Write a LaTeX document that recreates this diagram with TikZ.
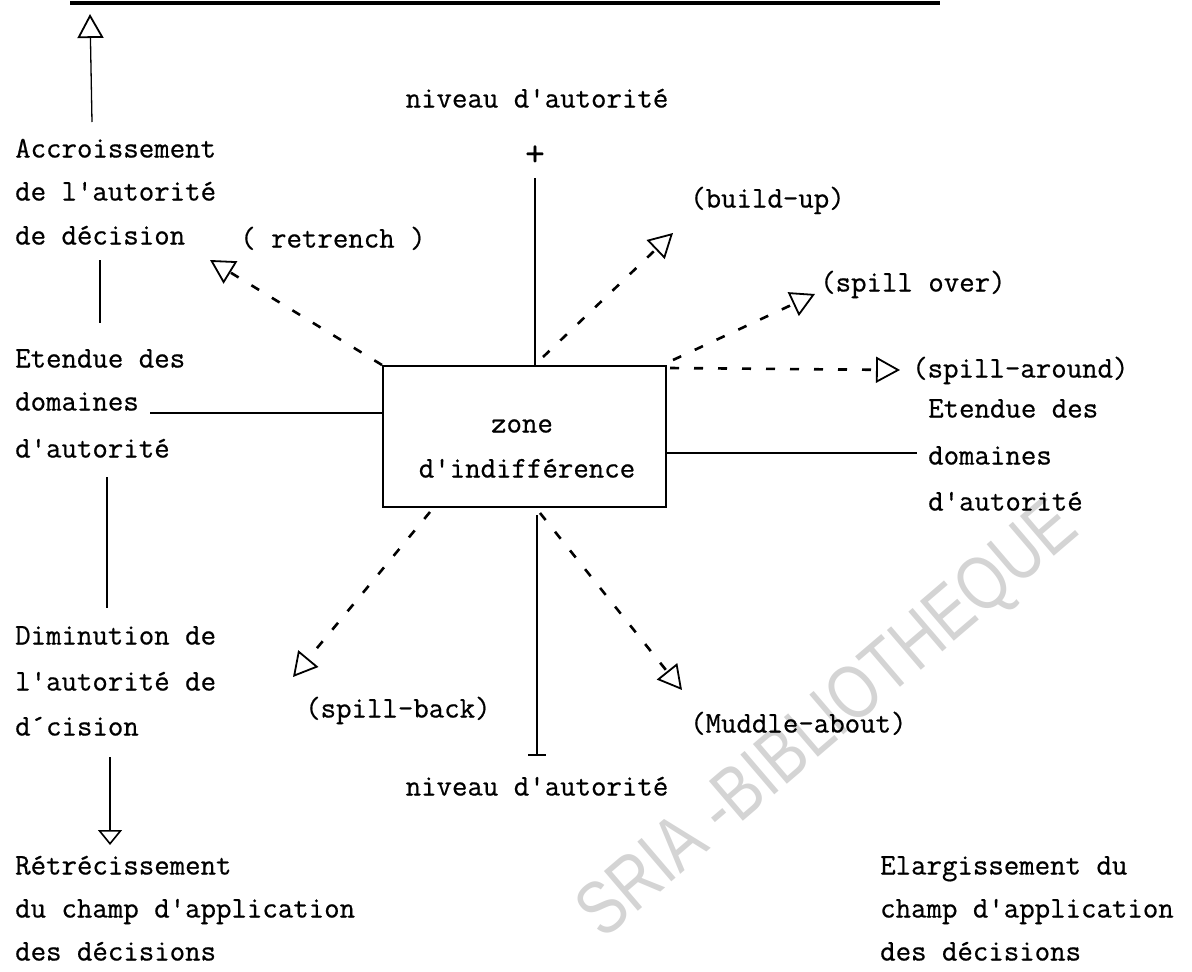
\documentclass[tikz,border=0pt]{standalone}
\usepackage{fontspec}
\newfontfamily\twfont{Latin Modern Mono}[FakeBold=0.6]
\newfontfamily\wmfont{Liberation Sans}
\usetikzlibrary{arrows.meta}
\begin{document}
\begin{tikzpicture}[x=1pt,y=-1pt,
  tw/.style={font=\twfont\fontsize{30}{34}\selectfont, inner sep=0pt, text height=18pt, text depth=3pt},
  lbl/.style={tw, anchor=west},
  thinln/.style={line width=1.3pt},
  dsh/.style={line width=2.6pt, dash pattern=on 9pt off 15pt},
  ohead/.style={-{Triangle[open, length=24pt, width=26pt, line width=1.8pt]}},
  shead/.style={-{Triangle[open, length=15pt, width=24pt, line width=1.6pt]}},
  boxst/.style={draw, line width=2pt, minimum width=283pt, minimum height=141pt, inner sep=0pt}
]
\useasboundingbox (0,0) rectangle (1192,972);

% watermark
\node[rotate=40.5, text=black!17, font=\wmfont\fontsize{76}{76}\selectfont, inner sep=0pt, xscale=0.8] (wm) at (830,722) {SRIA -BIBLIOTHEQUE};

% top rule
\coordinate (r1) at (70,3);
\coordinate (r2) at (940,3);
\draw[line width=4pt] (r1) -- (r2);

% central box
\node[boxst] (box) at (524.5,436.5) {};
\node[tw] (zone) at (522,425) {zone};
\node[tw] (indiff) at (527,470) {d'indifférence};

% top axis
\node[tw] (ntop) at (537,100) {niveau d'autorité};
\node[tw, font=\twfont\fontsize{38}{40}\selectfont] (plus) at (535,158) {+};
\coordinate (tv) at (535,178);
\draw[thinln] (tv) -- (tv |- box.north);

% bottom axis
\coordinate (bv) at (537,515);
\coordinate (mn) at (537,755);
\draw[thinln] (bv) -- (mn);
\draw[line width=2pt] ([xshift=-9pt]mn) -- ([xshift=9pt]mn);
\node[tw] (nbot) at (537,788) {niveau d'autorité};

% left column
\node[lbl] (acc1) at (15,150) {Accroissement};
\node[lbl] (acc2) at (15,193) {de l'autorité};
\node[lbl] (acc3) at (15,237) {de décision};
\node[lbl] (et1) at (15,360) {Etendue des};
\node[lbl] (et2) at (15,403) {domaines};
\node[lbl] (et3) at (15,450) {d'autorité};
\node[lbl] (dim1) at (15,637) {Diminution de};
\node[lbl] (dim2) at (15,683) {l'autorité de};
\node[lbl] (dim3) at (15,728) {d´cision};
\node[lbl] (ret1) at (15,867) {Rétrécissement};
\node[lbl] (ret2) at (15,910) {du champ d'application};
\node[lbl] (ret3) at (15,953) {des décisions};

\coordinate (l1a) at (92,122);
\coordinate (l1b) at (90,14);
\draw[thinln, ohead] (l1a) -- (l1b);
\coordinate (l2a) at (100,260);
\coordinate (l2b) at (100,323);
\draw[thinln] (l2a) -- (l2b);
\coordinate (l3a) at (107,477);
\coordinate (l3b) at (107,608);
\draw[thinln] (l3a) -- (l3b);
\coordinate (l4a) at (110,757);
\coordinate (l4b) at (110,845);
\draw[thinln, shead] (l4a) -- (l4b);

% horizontal connectors
\coordinate (lh) at (150,413);
\draw[thinln] (lh) -- (lh -| box.west);
\coordinate (rh) at (917,453);
\draw[thinln] (rh -| box.east) -- (rh);

% right column
\node[lbl] (ret) at (240,240) {( retrench )};
\node[lbl] (bu) at (690,200) {(build-up)};
\node[lbl] (so) at (820,284) {(spill over)};
\node[lbl] (sa) at (912,370) {(spill-around)};
\node[lbl] (ed1) at (928,410) {Etendue des};
\node[lbl] (ed2) at (928,457) {domaines};
\node[lbl] (ed3) at (928,503) {d'autorité};
\node[lbl] (sb) at (305,710) {(spill-back)};
\node[lbl] (ma) at (690,725) {(Muddle-about)};
\node[lbl] (el1) at (880,867) {Elargissement du};
\node[lbl] (el2) at (880,910) {champ d'application};
\node[lbl] (el3) at (880,953) {des décisions};

% dashed arrows
\coordinate (retT) at (210,260);
\draw[dsh, ohead] (box.north west) -- (retT);
\coordinate (buS) at (543,357);
\coordinate (buT) at (673,233);
\draw[dsh, ohead] (buS) -- (buT);
\coordinate (soS) at (673,360);
\coordinate (soT) at (815,294);
\draw[dsh, ohead] (soS) -- (soT);
\coordinate (saS) at (670,368);
\coordinate (saT) at (900,370);
\draw[dsh, ohead] (saS) -- (saT);
\coordinate (sbS) at (430,512);
\coordinate (sbT) at (293,677);
\draw[dsh, ohead] (sbS) -- (sbT);
\coordinate (maS) at (540,513);
\coordinate (maT) at (682,690);
\draw[dsh, ohead] (maS) -- (maT);
\end{tikzpicture}
\end{document}
